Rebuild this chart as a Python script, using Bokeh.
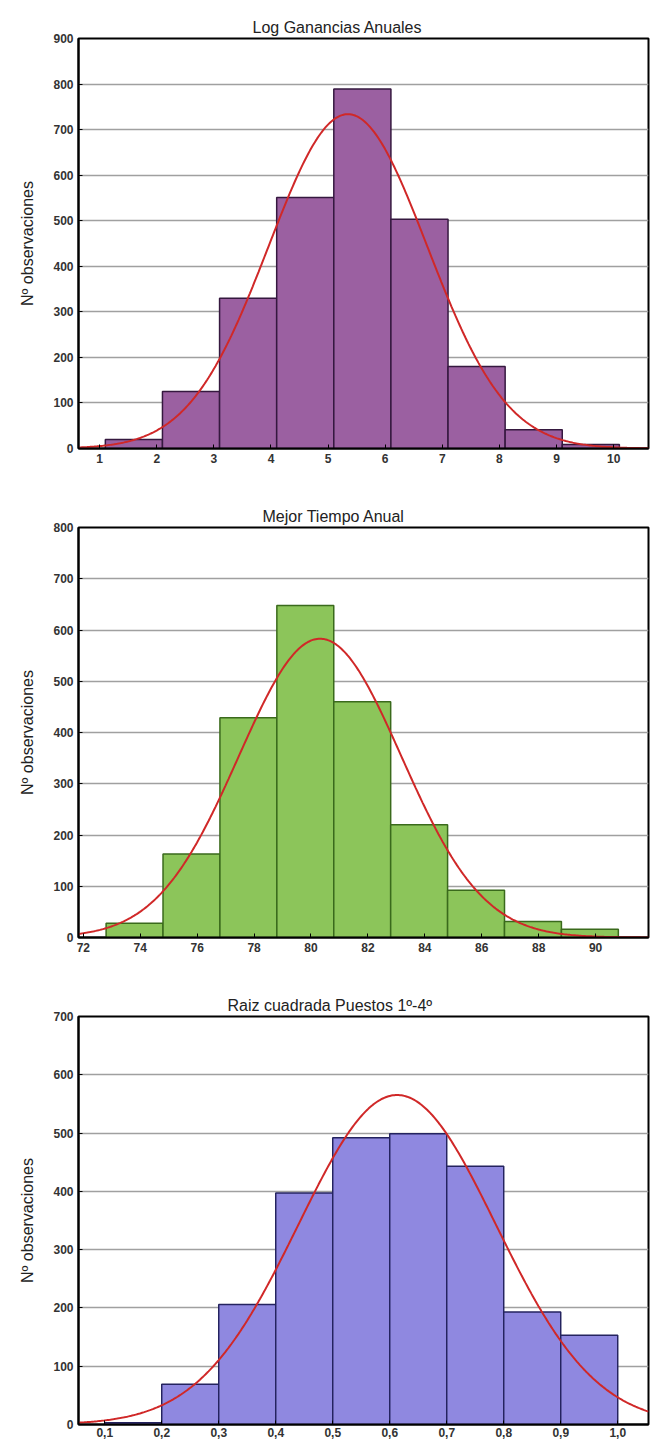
import numpy as np
from bokeh.plotting import figure
from bokeh.layouts import column
from bokeh.models import Range1d, FixedTicker, CustomJSTickFormatter, Title
from bokeh.embed import file_html
from bokeh.resources import INLINE

# ---------------- data ----------------
y_label = "Nº observaciones"

log_title = "Log Ganancias Anuales"
log_edges = [1.1, 2.1, 3.1, 4.1, 5.1, 6.1, 7.1, 8.1, 9.1, 10.1]
log_counts = [20, 125, 330, 551, 789, 503, 180, 41, 9]
log_xticks = [1, 2, 3, 4, 5, 6, 7, 8, 9, 10]
log_yticks = [0, 100, 200, 300, 400, 500, 600, 700, 800, 900]

time_title = "Mejor Tiempo Anual"
time_edges = [72.8, 74.8, 76.8, 78.8, 80.8, 82.8, 84.8, 86.8, 88.8, 90.8]
time_counts = [28, 163, 429, 648, 460, 220, 92, 31, 16]
time_xticks = [72, 74, 76, 78, 80, 82, 84, 86, 88, 90]
time_yticks = [0, 100, 200, 300, 400, 500, 600, 700, 800]

root_title = "Raiz cuadrada Puestos 1º-4º"
root_edges = [0.1, 0.2, 0.3, 0.4, 0.5, 0.6, 0.7, 0.8, 0.9, 1.0]
root_counts = [3, 69, 206, 397, 492, 499, 443, 193, 153]
root_xticks = [0.1, 0.2, 0.3, 0.4, 0.5, 0.6, 0.7, 0.8, 0.9, 1.0]
root_yticks = [0, 100, 200, 300, 400, 500, 600, 700]

FONT = "Liberation Sans"
FRAME_LEFT = 78


def panel(title, title_offset, edges, counts, xticks, yticks, xr, fill, edge,
          frame_h, border_top, border_bottom, x_standoff=5, comma=False):
    e = np.array(edges, dtype=float)
    c = np.array(counts, dtype=float)
    centers = (e[:-1] + e[1:]) / 2
    w = e[1] - e[0]
    n = c.sum()
    mean = (c * centers).sum() / n
    sd = np.sqrt((c * (centers - mean) ** 2).sum() / n)

    p = figure(frame_width=570, frame_height=frame_h,
               min_border_left=FRAME_LEFT, min_border_right=6,
               min_border_top=border_top, min_border_bottom=border_bottom,
               x_range=Range1d(*xr), y_range=Range1d(yticks[0], yticks[-1]),
               output_backend="svg", toolbar_location=None, title=None,
               background_fill_color="white", border_fill_color="white")
    p.outline_line_color = "black"
    p.outline_line_width = 2

    p.quad(left=e[:-1], right=e[1:], bottom=0, top=c,
           fill_color=fill, line_color=edge, line_width=1.5)

    xs = np.linspace(xr[0], xr[1], 400)
    ys = n * w * np.exp(-0.5 * ((xs - mean) / sd) ** 2) / (sd * np.sqrt(2 * np.pi))
    p.line(xs, ys, line_color="#d02828", line_width=2)

    p.xgrid.visible = False
    p.ygrid.ticker = FixedTicker(ticks=yticks)
    p.ygrid.grid_line_color = "#a0a0a0"
    p.ygrid.grid_line_width = 1.5

    for ax in (p.xaxis[0], p.yaxis[0]):
        ax.axis_line_color = "black"
        ax.axis_line_width = 2
        ax.major_tick_in = 4
        ax.major_tick_out = 0
        ax.major_tick_line_color = "black"
        ax.minor_tick_line_color = None
        ax.major_label_text_font = FONT
        ax.major_label_text_font_size = "12px"
        ax.major_label_text_font_style = "bold"
        ax.major_label_text_color = "#333333"
        ax.major_label_standoff = 5
    p.xaxis.major_label_standoff = x_standoff

    p.xaxis.ticker = FixedTicker(ticks=xticks)
    p.yaxis.ticker = FixedTicker(ticks=yticks)
    if comma:
        p.xaxis.formatter = CustomJSTickFormatter(
            code="return tick.toFixed(1).replace('.', ',');")

    p.yaxis.axis_label = y_label
    p.yaxis.axis_label_text_font = FONT
    p.yaxis.axis_label_text_font_size = "16px"
    p.yaxis.axis_label_text_font_style = "normal"
    p.yaxis.axis_label_text_color = "#222222"
    p.yaxis.axis_label_standoff = 14

    t = Title(text=title, align="left", offset=title_offset, standoff=6,
              text_font=FONT, text_font_size="16px", text_font_style="normal",
              text_color="#222222")
    p.add_layout(t, "above")
    return p


p1 = panel(log_title, 174, log_edges, log_counts, log_xticks, log_yticks,
           (0.63, 10.61), "#9b60a1", "#35183f", 410, 38, 49)
p2 = panel(time_title, 184, time_edges, time_counts, time_xticks, time_yticks,
           (71.83, 91.86), "#8cc55a", "#3a6a1c", 410, 30, 49)
p3 = panel(root_title, 149, root_edges, root_counts, root_xticks, root_yticks,
           (0.054, 1.054), "#8f88e0", "#24235f", 408, 30, 0, x_standoff=3,
           comma=True)

layout = column(p1, p2, p3, spacing=0)
open("out.html", "w").write(file_html(layout, INLINE))
